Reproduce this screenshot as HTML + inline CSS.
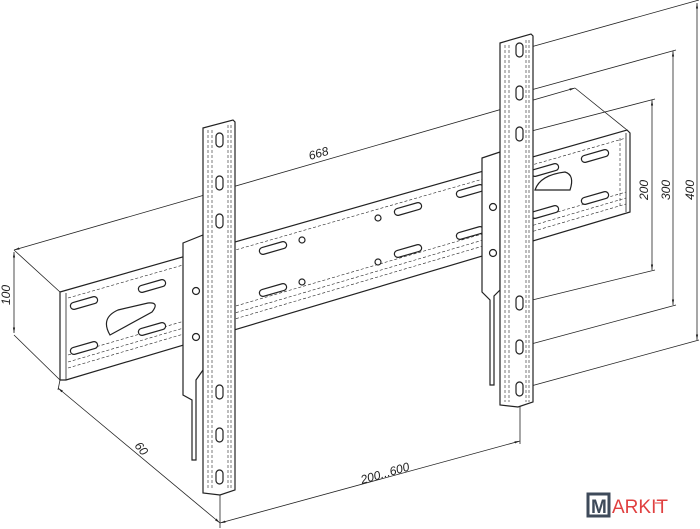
<!DOCTYPE html>
<html><head><meta charset="utf-8"><style>
html,body{margin:0;padding:0;background:#fff;}
svg{display:block;}
text{font-family:"Liberation Sans",sans-serif;font-size:12px;fill:#222;font-style:italic;}
</style></head><body>
<svg width="700" height="529" viewBox="0 0 700 529" xmlns="http://www.w3.org/2000/svg">
<defs>
<marker id="a" viewBox="0 0 10 10" refX="10" refY="5" markerWidth="7" markerHeight="7" orient="auto-start-reverse"><path d="M0,3 L10,5 L0,7z" fill="#222"/></marker>
</defs>
<g stroke="#222" fill="none" stroke-width="0.8">
<!-- dimension lines -->
<line x1="14" y1="250" x2="575" y2="88" marker-start="url(#a)" marker-end="url(#a)"/>
<line x1="575" y1="88" x2="627" y2="130"/>
<line x1="14" y1="250" x2="60" y2="292"/>
<line x1="14" y1="335" x2="60" y2="380"/>
<line x1="14" y1="252" x2="14" y2="333" marker-start="url(#a)" marker-end="url(#a)"/>
<line x1="60" y1="380" x2="58" y2="390"/>
<line x1="58" y1="388" x2="220" y2="523" marker-start="url(#a)" marker-end="url(#a)"/>
<line x1="220" y1="523" x2="520" y2="441" marker-start="url(#a)" marker-end="url(#a)"/>
<line x1="220" y1="480" x2="220" y2="528"/>
<line x1="520" y1="393" x2="520" y2="444"/>
<line x1="520" y1="50" x2="699" y2="0"/>
<line x1="520" y1="93" x2="676" y2="50"/>
<line x1="520" y1="134" x2="655" y2="99"/>
<line x1="520" y1="303" x2="655" y2="270"/>
<line x1="520" y1="347" x2="676" y2="305"/>
<line x1="520" y1="389" x2="699" y2="340"/>
<line x1="652" y1="100" x2="652" y2="270" marker-start="url(#a)" marker-end="url(#a)"/>
<line x1="673" y1="51" x2="673" y2="305" marker-start="url(#a)" marker-end="url(#a)"/>
<line x1="697" y1="3" x2="697" y2="340" marker-start="url(#a)" marker-end="url(#a)"/>
</g>
<text transform="translate(310,160) rotate(-16)">668</text>
<text transform="translate(10,305) rotate(-90)">100</text>
<text transform="translate(134,446) rotate(50)">60</text>
<text transform="translate(362,484) rotate(-16)">200...600</text>
<text transform="translate(648,200) rotate(-90)">200</text>
<text transform="translate(670,200) rotate(-90)">300</text>
<text transform="translate(694,200) rotate(-90)">400</text>

<g stroke="#222" fill="#fff" stroke-width="1.2">
<!-- main rail -->
<polygon points="60,292 627,130 630,133 630,212 66,380 60,380"/>
<line x1="66" y1="293" x2="66" y2="380" stroke-width="0.8"/>
<line x1="185" y1="262" x2="185" y2="347" stroke-width="0.8"/>
<line x1="485" y1="175" x2="485" y2="260" stroke-width="0.8"/>
<line x1="626" y1="133" x2="626" y2="212" stroke-width="0.8"/>
<g stroke-dasharray="3,2" stroke-width="0.6" fill="none">
<line x1="68" y1="298" x2="626" y2="138"/>
<line x1="68" y1="355" x2="626" y2="192"/>
<line x1="68" y1="362" x2="626" y2="198"/>
<line x1="68" y1="368" x2="626" y2="204"/>
<line x1="620" y1="138" x2="620" y2="206"/>
</g>
<!-- slots -->
<g stroke-width="1.2">
<rect x="-14" y="-3.5" width="28" height="7" rx="3.5" transform="translate(84,303) rotate(-16)"/>
<rect x="-14" y="-3.5" width="28" height="7" rx="3.5" transform="translate(152,286) rotate(-16)"/>
<rect x="-14" y="-3.5" width="28" height="7" rx="3.5" transform="translate(84,348) rotate(-16)"/>
<rect x="-14" y="-3.5" width="28" height="7" rx="3.5" transform="translate(152,329) rotate(-16)"/>
<path d="M110,335 Q100,318 118,310 L148,303 Q160,302 152,312 Z"/>
<rect x="-14" y="-3.5" width="28" height="7" rx="3.5" transform="translate(273,248) rotate(-16)"/>
<rect x="-14" y="-3.5" width="28" height="7" rx="3.5" transform="translate(273,290) rotate(-16)"/>
<rect x="-14" y="-3.5" width="28" height="7" rx="3.5" transform="translate(408,209) rotate(-16)"/>
<rect x="-14" y="-3.5" width="28" height="7" rx="3.5" transform="translate(408,251) rotate(-16)"/>
<rect x="-14" y="-3.5" width="28" height="7" rx="3.5" transform="translate(470,191) rotate(-16)"/>
<rect x="-14" y="-3.5" width="28" height="7" rx="3.5" transform="translate(470,233) rotate(-16)"/>
<rect x="-14" y="-3.5" width="28" height="7" rx="3.5" transform="translate(595,156) rotate(-16)"/>
<rect x="-14" y="-3.5" width="28" height="7" rx="3.5" transform="translate(595,198) rotate(-16)"/>
<rect x="-14" y="-3.5" width="28" height="7" rx="3.5" transform="translate(545,170) rotate(-16)"/>
<rect x="-14" y="-3.5" width="28" height="7" rx="3.5" transform="translate(545,212) rotate(-16)"/>
<circle cx="302" cy="240" r="3"/><circle cx="302" cy="282" r="3"/>
<circle cx="378" cy="218" r="3"/><circle cx="378" cy="262" r="3"/>
<path d="M535,190 Q540,175 565,172 Q575,175 570,190 Z"/>
</g>
<!-- left bracket -->
<polygon points="183,243 203,235 203,370 196,380 196,460 192,460 192,400 183,395"/>
<polygon points="482,158 500,152 500,290 494,296 494,385 490,385 490,300 482,292"/>
<circle cx="196" cy="291" r="3.5"/><circle cx="196" cy="337" r="3.5"/>
<circle cx="493" cy="207" r="3.5"/><circle cx="493" cy="253" r="3.5"/>
<!-- left upright -->
<polygon points="203,128 233,120 235,122 235,490 220,495 203,493"/>
<!-- right upright -->
<polygon points="500,43 531,34 533,36 533,402 518,407 500,405"/>
</g>
<g stroke="#222" stroke-dasharray="3,2" stroke-width="0.6">
<line x1="208" y1="130" x2="208" y2="490"/><line x1="212" y1="130" x2="212" y2="490"/>
<line x1="228" y1="125" x2="228" y2="490"/><line x1="231" y1="125" x2="231" y2="490"/>
<line x1="505" y1="45" x2="505" y2="402"/><line x1="509" y1="45" x2="509" y2="402"/>
<line x1="526" y1="40" x2="526" y2="402"/><line x1="529" y1="40" x2="529" y2="402"/>
</g>
<g stroke="#222" fill="#fff" stroke-width="1.2">
<rect x="216" y="133" width="7" height="14" rx="3.5"/>
<rect x="216" y="176" width="7" height="14" rx="3.5"/>
<rect x="216" y="214" width="7" height="14" rx="3.5"/>
<rect x="216" y="385" width="7" height="14" rx="3.5"/>
<rect x="216" y="428" width="7" height="14" rx="3.5"/>
<rect x="216" y="470" width="7" height="14" rx="3.5"/>
<rect x="516" y="43" width="7" height="14" rx="3.5"/>
<rect x="516" y="86" width="7" height="14" rx="3.5"/>
<rect x="516" y="127" width="7" height="14" rx="3.5"/>
<rect x="516" y="296" width="7" height="14" rx="3.5"/>
<rect x="516" y="340" width="7" height="14" rx="3.5"/>
<rect x="516" y="382" width="7" height="14" rx="3.5"/>
</g>
<!-- logo -->
<rect x="588" y="494" width="21" height="22" fill="#fff" stroke="#3e4a5a" stroke-width="3"/>
<text x="591" y="513" style="font-style:normal;font-size:19px;fill:#3e4a5a;font-weight:bold">M</text>
<text x="612" y="513" style="font-style:normal;font-size:19px;fill:#e04040">ARKIT</text>
<line x1="655" y1="503" x2="663" y2="503" stroke="#e04040" stroke-width="1"/>
</svg>
</body></html>
